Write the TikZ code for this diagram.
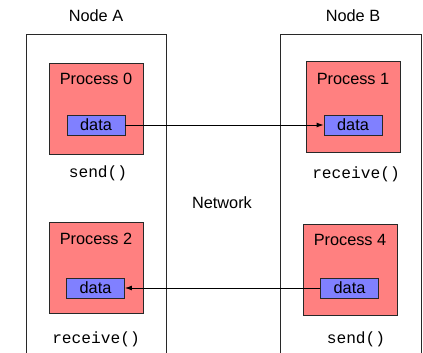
\documentclass[tikz,border=0pt]{standalone}
\usepackage{fontspec}
\setmainfont{Liberation Sans}
\setmonofont{Liberation Mono}
\usetikzlibrary{arrows.meta}
\definecolor{procred}{RGB}{255,128,128}
\definecolor{datablue}{RGB}{128,128,255}
\definecolor{edge}{RGB}{40,40,40}
\tikzset{
  hostbox/.style={draw=edge, line width=0.9pt},
  procbox/.style={draw=edge, line width=0.9pt, fill=procred, minimum width=94pt, minimum height=91pt, inner sep=0pt},
  databox/.style={draw=edge, line width=0.9pt, fill=datablue, minimum width=58pt, minimum height=20pt, inner sep=0pt, font=\fontsize{16.3}{18}\selectfont},
  lbl/.style={font=\fontsize{16.3}{18}\selectfont, inner sep=0pt},
  call/.style={font=\ttfamily\fontsize{16.2}{18}\selectfont, inner sep=0pt},
  msg/.style={draw=black, line width=0.9pt, -{Latex[length=7pt,width=5pt]}}
}
\begin{document}
\begin{tikzpicture}[x=1pt, y=-1pt]
  \useasboundingbox (0,0) rectangle (423,353);
  \fill[white] (0,0) rectangle (423,353);

  % host machines (open at the bottom edge)
  \draw[hostbox] (26,353) -- (26,34) -- (166,34) -- (166,353);
  \draw[hostbox] (280,353) -- (280,34) -- (421,34) -- (421,353);
  \node[lbl] (hostA) at (96,16) {Node A};
  \node[lbl] (hostB) at (353,16) {Node B};
  \node[lbl] (net) at (222,203) {Network};

  % processes
  \node[procbox] (p0) at (96,108.5) {};
  \node[procbox] (p1) at (353,107) {};
  \node[procbox] (p2) at (96,267.5) {};
  \node[procbox] (p4) at (350,270) {};
  \node[lbl] (p0t) at (96,79) {Process 0};
  \node[lbl] (p1t) at (353,79) {Process 1};
  \node[lbl] (p2t) at (96,239) {Process 2};
  \node[lbl] (p4t) at (350,240) {Process 4};

  % message buffers
  \node[databox] (d0) at (96,125) {data};
  \node[databox] (d1) at (353,125) {data};
  \node[databox] (d2) at (95.5,288) {data};
  \node[databox] (d4) at (349.5,288) {data};

  % calls
  \node[call] (c0) at (98,173) {send()};
  \node[call] (c1) at (356,174) {receive()};
  \node[call] (c2) at (96,339) {receive()};
  \node[call] (c4) at (356,339) {send()};

  % messages over the network
  \draw[msg] (d0.east) -- (d1.west);
  \draw[msg] (d4.west) -- (d2.east);
\end{tikzpicture}
\end{document}
